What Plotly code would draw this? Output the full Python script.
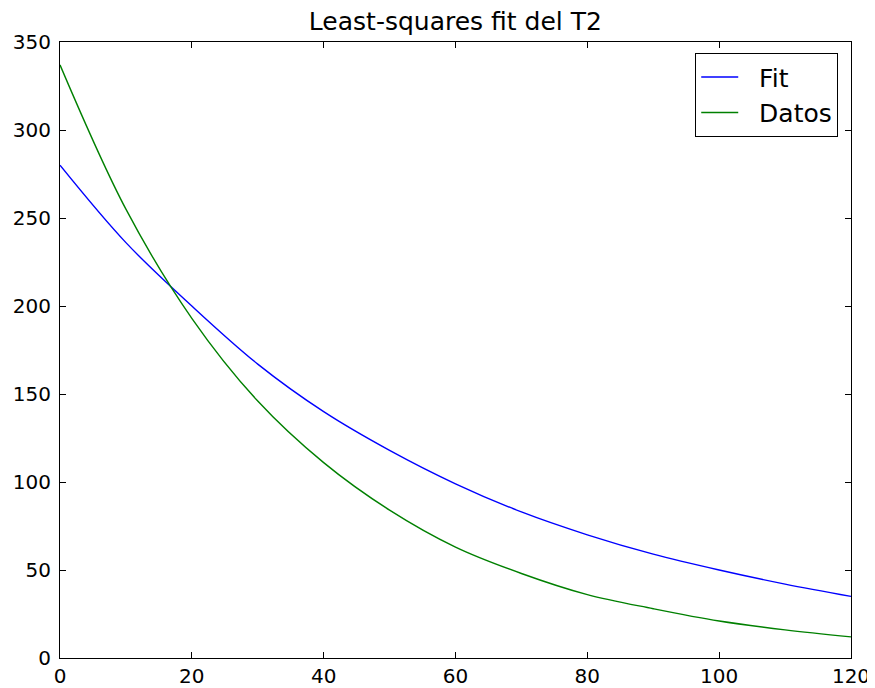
import plotly.graph_objects as go

x_vals = [0, 10, 20, 30, 40, 50, 60, 70, 80, 90, 100, 110, 120]
fit_vals = [280, 236, 200, 167, 140, 118, 99, 83, 70, 59, 50, 42, 35]
datos_vals = [337, 255, 193, 146, 111, 84, 63, 48, 36, 28, 21, 16, 12]
series_names = ["Fit", "Datos"]
x_ticks = [0, 20, 40, 60, 80, 100, 120]
y_ticks = [0, 50, 100, 150, 200, 250, 300, 350]

pad = "\u00a0\u00a0"

fig = go.Figure()
fig.add_trace(go.Scatter(x=x_vals, y=fit_vals, mode="lines", name=pad + series_names[0],
                         line=dict(color="#0000ff", width=1.4, shape="spline", smoothing=1.0)))
fig.add_trace(go.Scatter(x=x_vals, y=datos_vals, mode="lines", name=pad + series_names[1],
                         line=dict(color="#008000", width=1.4, shape="spline", smoothing=1.0)))

axis_common = dict(showgrid=False, zeroline=False, showline=True, linecolor="black",
                   linewidth=1.2, mirror="allticks", ticks="inside", ticklen=6,
                   tickcolor="black", automargin=False,
                   tickfont=dict(family="DejaVu Sans", size=20, color="black"))
fig.update_xaxes(range=[0, 120], tickvals=x_ticks, ticklabelstandoff=0, **axis_common)
fig.update_yaxes(range=[0, 350], tickvals=y_ticks, ticklabelstandoff=4, **axis_common)

fig.update_layout(
    width=867, height=680,
    margin=dict(l=52, r=24, t=34, b=30),
    plot_bgcolor="white", paper_bgcolor="white",
    title=dict(text="Least-squares fit del T2", x=0.516, xanchor="center", y=0.981, yanchor="middle",
               font=dict(family="DejaVu Sans", size=25, color="black"), automargin=False),
    legend=dict(x=0.9836, y=0.982, xanchor="right", yanchor="top",
                bordercolor="black", borderwidth=1.2, bgcolor="white",
                itemwidth=37, tracegroupgap=0,
                font=dict(family="DejaVu Sans", size=25, color="black")),
    showlegend=True,
)

fig.write_html("out.html")
